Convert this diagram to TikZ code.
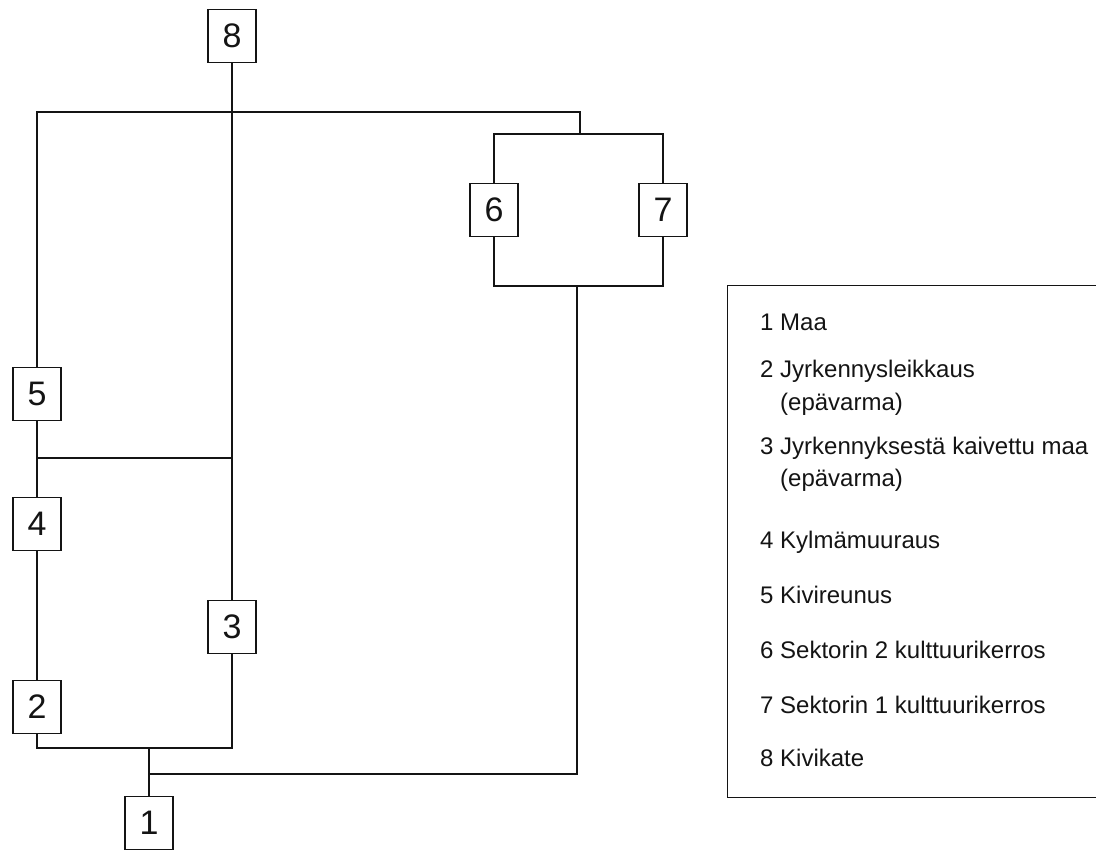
\documentclass[tikz,border=0pt]{standalone}
\usepackage{fontspec}
\setmainfont{Liberation Sans}
\usetikzlibrary{positioning}
\definecolor{ink}{RGB}{20,20,20}

\begin{document}
\begin{tikzpicture}[
    x=1pt, y=-1pt,
    unit/.style={rectangle, draw=ink, line width=1.6pt, fill=white, minimum width=48pt, minimum height=53pt, inner sep=0pt, font=\fontsize{34}{40}\selectfont, text=ink},
    link/.style={line width=2pt, ink},
    legend/.style={anchor=base west, inner sep=0pt, font=\fontsize{24}{28}\selectfont, text=ink},
    legendbox/.style={rectangle, draw=ink, line width=1.4pt, anchor=north west, minimum width=390pt, minimum height=512pt, inner sep=0pt},
]
\useasboundingbox (0,0) rectangle (1096,850);
\clip (0,0) rectangle (1096,850);

% units
\node[unit] (u8) at (232,36) {8};
\node[unit] (u6) at (494,210) {6};
\node[unit] (u7) at (663,210) {7};
\node[unit] (u5) at (37,394) {5};
\node[unit] (u4) at (37,524) {4};
\node[unit] (u3) at (232,627) {3};
\node[unit] (u2) at (37,707) {2};
\node[unit] (u1) at (149,823) {1};

% junctions
\coordinate (top) at (580,112);
\coordinate (split) at (580,134);
\coordinate (join) at (577,286);
\coordinate (mid) at (37,458);
\coordinate (base) at (149,748);
\coordinate (low) at (149,774);

% connectors
\draw[link] (u5.north) |- (top) -- (split);
\draw[link] (u6.north) |- (split) -| (u7.north);
\draw[link] (u6.south) |- (join) -| (u7.south);
\draw[link] (join) |- (low);
\draw[link] (u8.south) -- (u3.north);
\draw[link] (u5.south) -- (u4.north);
\draw[link] (u4.south) -- (u2.north);
\draw[link] (mid) -- (mid -| u3);
\draw[link] (u2.south) |- (base) -| (u3.south);
\draw[link] (base) -- (low) -- (u1.north);

% legend
\node[legendbox] (legend) at (727,285) {};
\node[legend] (l1) at (760,331) {1 Maa};
\node[legend] (l2) at (760,378) {2 Jyrkennysleikkaus};
\node[legend] (l2b) at (760,410) {\phantom{2 }(epävarma)};
\node[legend] (l3) at (760,455) {3 Jyrkennyksestä kaivettu maa};
\node[legend] (l3b) at (760,486) {\phantom{3 }(epävarma)};
\node[legend] (l4) at (760,548) {4 Kylmämuuraus};
\node[legend] (l5) at (760,603) {5 Kivireunus};
\node[legend] (l6) at (760,658) {6 Sektorin 2 kulttuurikerros};
\node[legend] (l7) at (760,713) {7 Sektorin 1 kulttuurikerros};
\node[legend] (l8) at (760,766) {8 Kivikate};

\end{tikzpicture}
\end{document}
